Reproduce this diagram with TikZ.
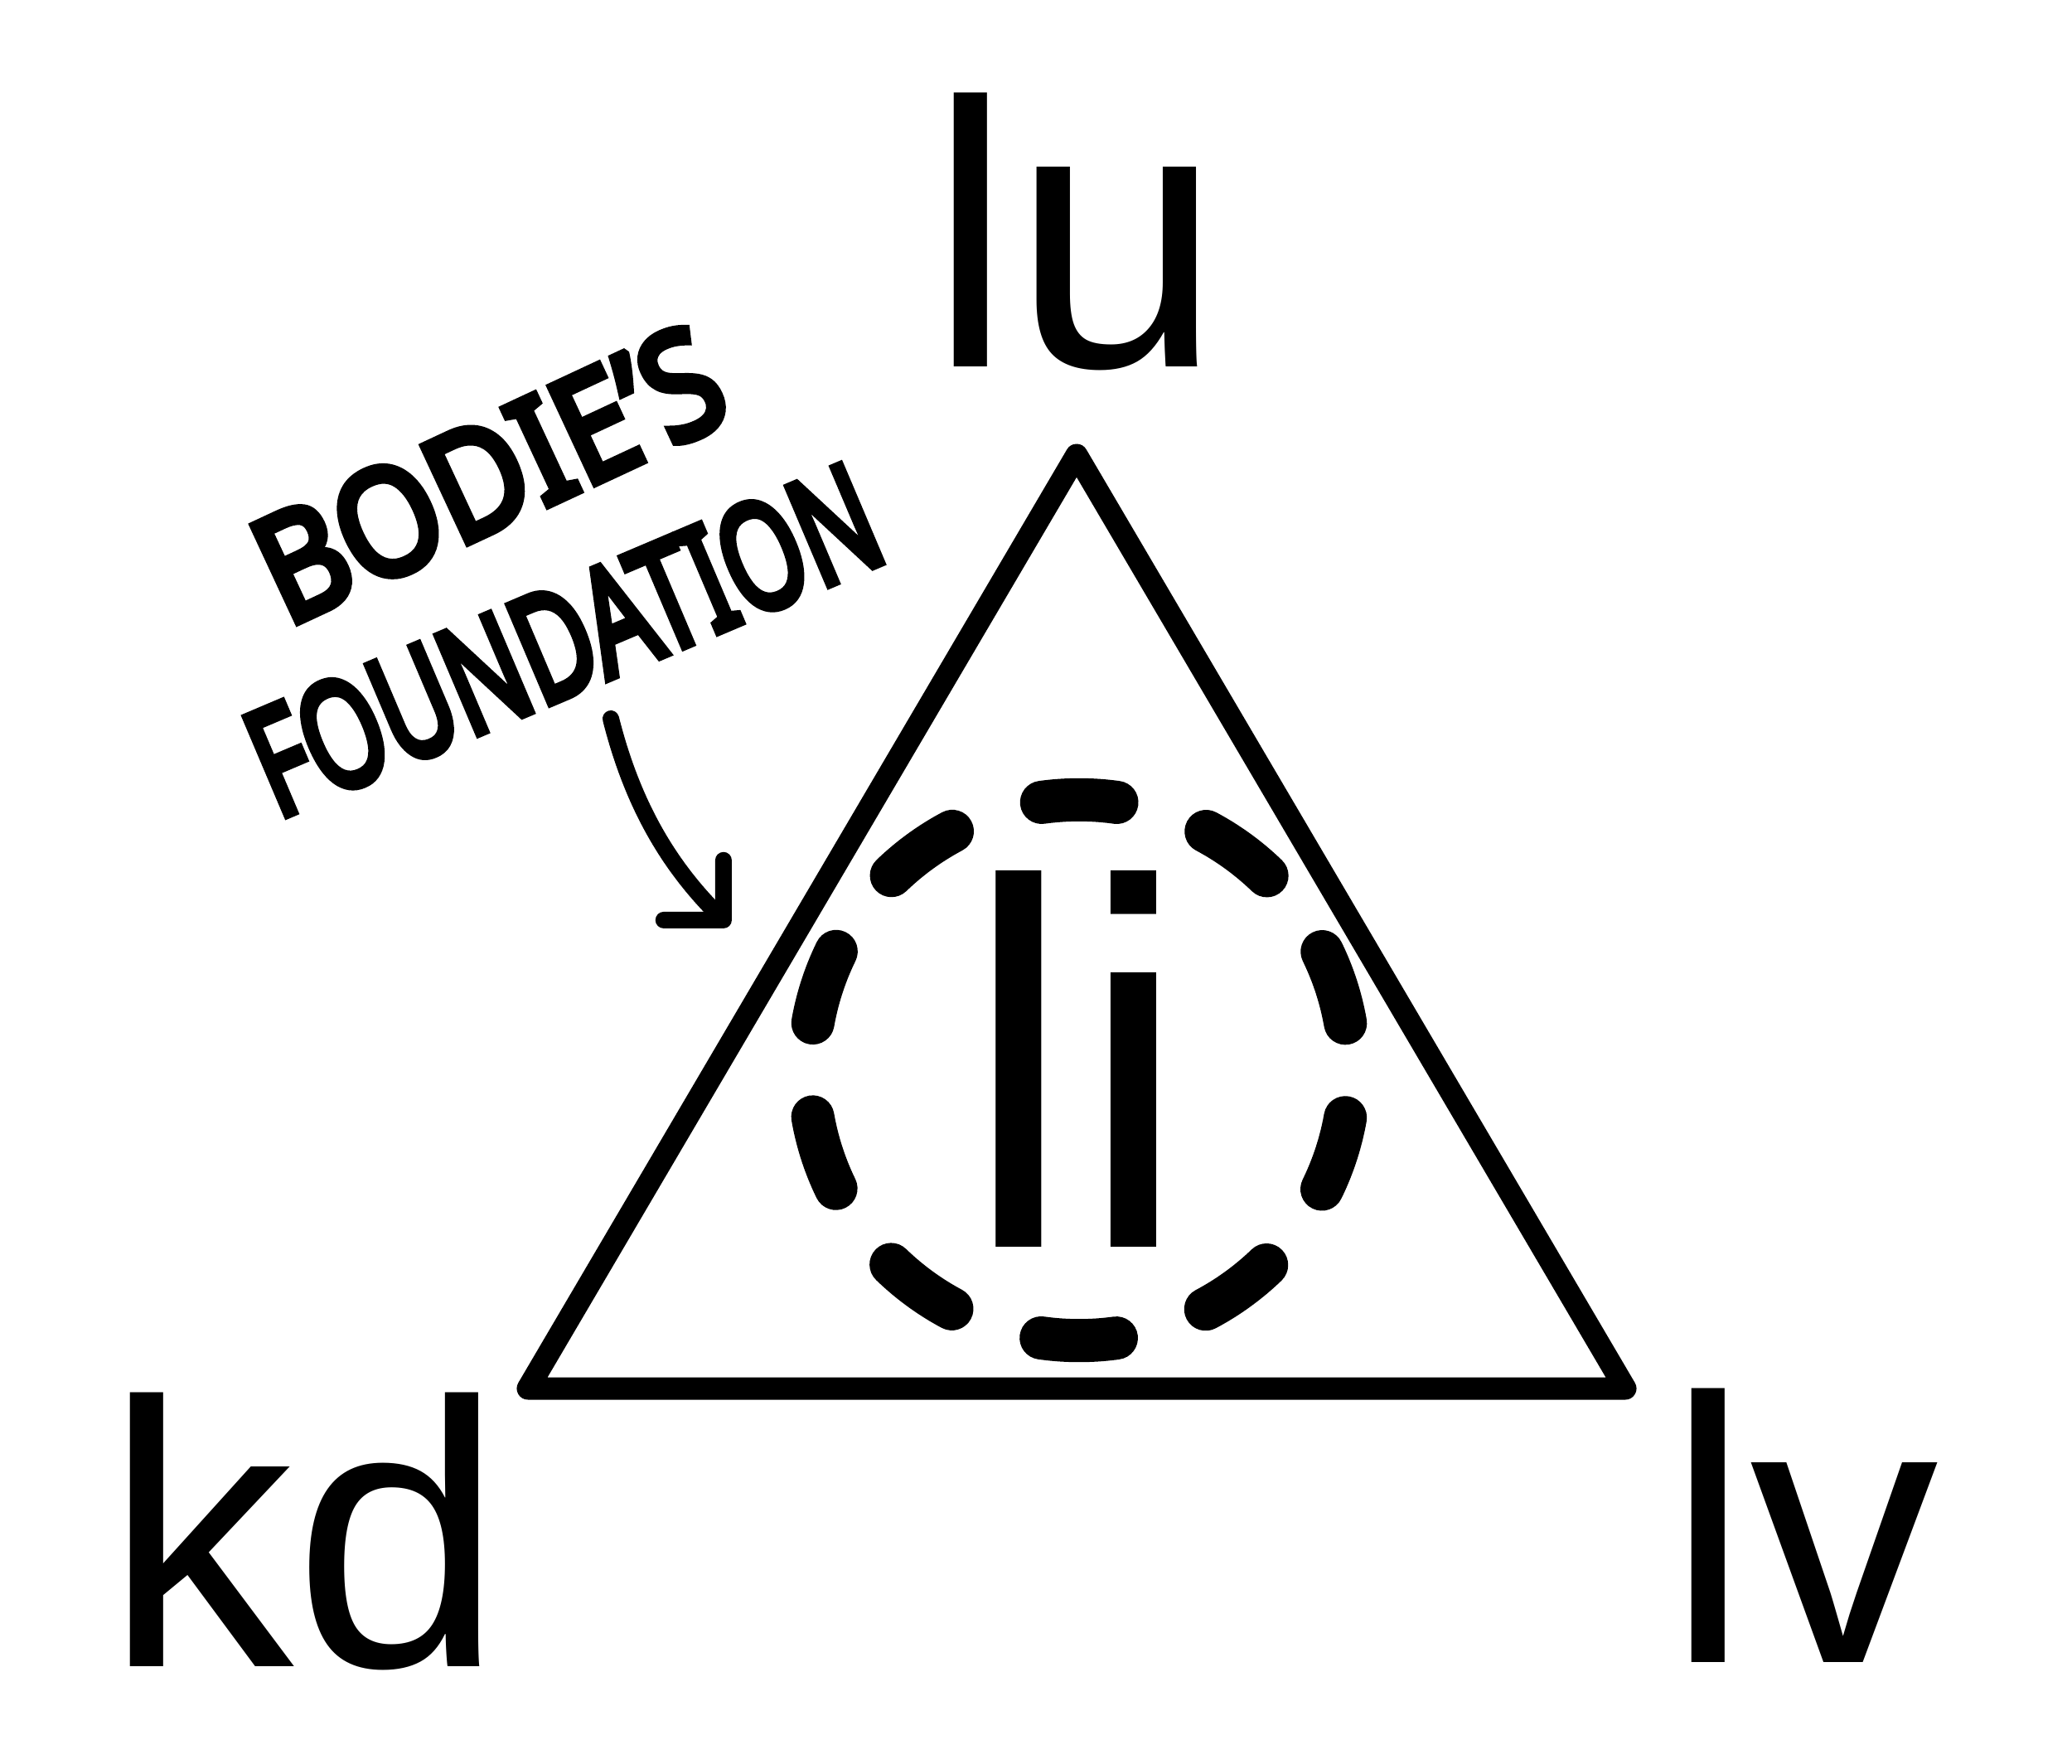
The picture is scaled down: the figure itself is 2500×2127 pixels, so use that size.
\documentclass[tikz,border=0pt]{standalone}
\usepackage{fontspec}
\usepackage{tikz}
\usetikzlibrary{arrows.meta}
\setmainfont{Liberation Sans}
\newfontfamily\semifont[FakeBold=6]{Noto Sans}

\begin{document}
\begin{tikzpicture}[x=0.01cm, y=-0.01cm,
    big/.style={inner sep=0pt, anchor=base west, font=\fontsize{129.7}{129.7}\selectfont},
    hand/.style={inner sep=0pt, font=\semifont\fontsize{50.6}{50.6}\selectfont},
    edge/.style={line width=0.27cm, line join=round, line cap=round},
    ring/.style={line width=0.52cm, line cap=round, dash pattern=on 0.91cm off 1.138cm, dash phase=1.479cm},
    pen/.style={line width=0.2cm, line cap=round, line join=round}]
    \useasboundingbox (0,0) rectangle (2500,2127);

    \coordinate (apex) at (1299,549);
    \coordinate (left) at (637,1675);
    \coordinate (right) at (1961,1675);
    \coordinate (centre) at (1302,1291);

    \draw[edge] (apex) -- (left) -- (right) -- cycle;
    \draw[ring] (centre) circle[radius=3.26cm];

    \node[big] (lu) at (1120,442) {lu};
    \node[big] (kd) at (126,2010) {kd};
    \node[big] (lv) at (2010,2005) {lv};
    \node[inner sep=0pt, anchor=base west, font=\fontsize{178.2}{178.2}\selectfont] (li) at (1159,1504) {li};

    \node[hand, rotate=25, xscale=0.89] (bodies) at (590,572) {BODIE’S};
    \node[hand, rotate=23, xscale=0.695] (foundation) at (680,772) {FOUNDATION};

    \coordinate (arrowstart) at (737,867);
    \coordinate (arrowtip) at (880,1117);
    \draw[pen, -{Straight Barb[length=0.51cm, width=1.02cm, round]}] (arrowstart) .. controls (764,974) and (809,1046) .. (arrowtip);
\end{tikzpicture}
\end{document}
